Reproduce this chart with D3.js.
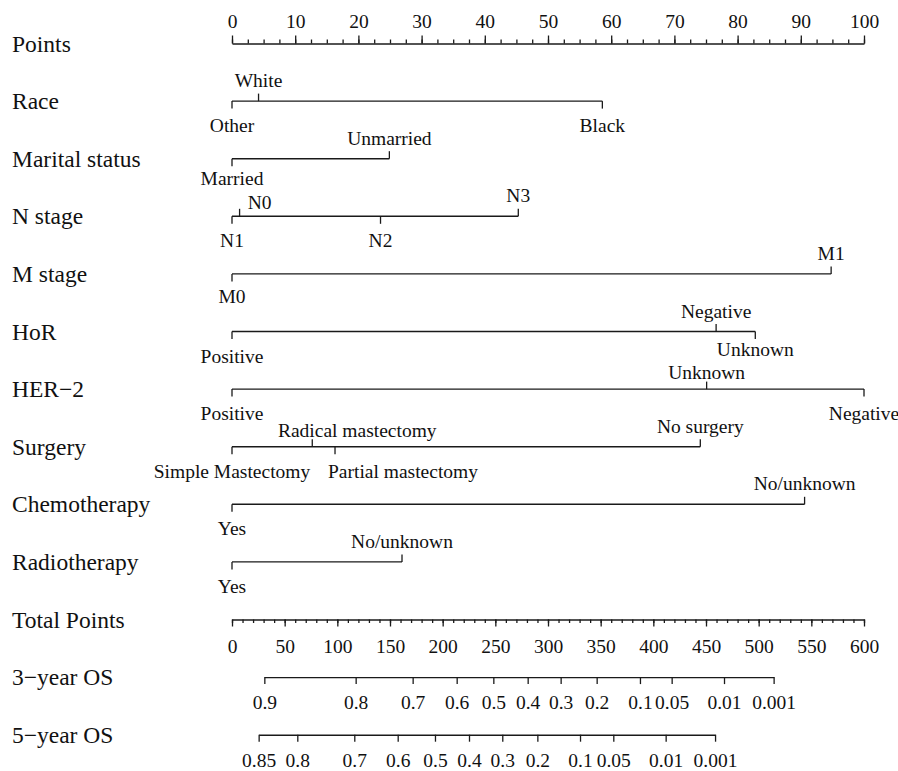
<!DOCTYPE html>
<html>
<head>
<meta charset="utf-8">
<script src="https://cdn.jsdelivr.net/npm/d3@7"></script>
<style>
  html, body { margin: 0; padding: 0; background: #fff; }
  svg { display: block; }
  text { font-family: "Liberation Serif", "Times New Roman", Times, serif; fill: #111; }
</style>
</head>
<body>
<svg id="chart" width="898" height="771"></svg>
<script>
// ---------------- DATA ----------------
const rowNames = ["Points", "Race", "Marital status", "N stage", "M stage", "HoR", "HER\u22122",
  "Surgery", "Chemotherapy", "Radiotherapy", "Total Points", "3\u2212year OS", "5\u2212year OS"];

const pointsMajor = [0, 10, 20, 30, 40, 50, 60, 70, 80, 90, 100];
const totalMajor = [0, 50, 100, 150, 200, 250, 300, 350, 400, 450, 500, 550, 600];

const raceLevels = ["Other", "White", "Black"];
const racePoints = [0, 4.2, 58.6];
const maritalLevels = ["Married", "Unmarried"];
const maritalPoints = [0, 24.9];
const nLevels = ["N1", "N0", "N2", "N3"];
const nPoints = [0, 1.2, 23.5, 45.3];
const mLevels = ["M0", "M1"];
const mPoints = [0, 94.8];
const horLevels = ["Positive", "Negative", "Unknown"];
const horPoints = [0, 76.6, 82.8];
const her2Levels = ["Positive", "Unknown", "Negative"];
const her2Points = [0, 75.1, 100];
const surgeryLevels = ["Simple Mastectomy", "Radical mastectomy", "Partial mastectomy", "No surgery"];
const surgeryPoints = [0, 12.7, 16.3, 74.1];
const chemoLevels = ["Yes", "No/unknown"];
const chemoPoints = [0, 90.6];
const radioLevels = ["Yes", "No/unknown"];
const radioPoints = [0, 26.9];

const os3Labels = ["0.9", "0.8", "0.7", "0.6", "0.5", "0.4", "0.3", "0.2", "0.1", "0.05", "0.01", "0.001"];
const os3TotalPoints = [30.7, 117.4, 171.5, 213.3, 248.1, 280.7, 312.0, 346.2, 387.3, 417.4, 467.1, 514.2];
const os5Labels = ["0.85", "0.8", "0.7", "0.6", "0.5", "0.4", "0.3", "0.2", "0.1", "0.05", "0.01", "0.001"];
const os5TotalPoints = [25.3, 62.0, 116.1, 157.3, 192.7, 225.0, 256.6, 289.9, 330.4, 362.0, 411.7, 458.6];

// ---------------- LAYOUT ----------------
const svg = d3.select("#chart");
const ink = "#1a1a1a";
const rowFont = 23.5, tickFont = 19.5;
const x = d3.scaleLinear().domain([0, 100]).range([232, 864]);
const xt = d3.scaleLinear().domain([0, 600]).range([232, 864]);
const rowY = d3.scaleLinear().domain([0, rowNames.length - 1]).range([43.5, 43.5 + 57.6 * 12]);

// hand-placed label nudges seen in the figure (to avoid overlaps)
const labelNudgeX = { "N stage|N0": 20, "Surgery|Radical mastectomy": 45, "Surgery|Partial mastectomy": 68 };
const labelNudgeY = { "Marital status|Married": -5, "N stage|N0": 7, "HoR|Unknown": -7,
  "HER\u22122|Unknown": 4, "Surgery|Radical mastectomy": 4, "M stage|M0": -2 };

// Row titles
svg.append("g").selectAll("text").data(rowNames).join("text")
  .attr("x", 12).attr("y", (d, i) => rowY(i) + 8)
  .attr("font-size", rowFont)
  .text(d => d);

function styleAxis(g) {
  g.selectAll("path.domain").attr("stroke", ink).attr("stroke-width", 1.4);
  g.selectAll(".tick line").attr("stroke", ink).attr("stroke-width", 1.3);
  g.attr("font-family", null).attr("font-size", null);
}

// Points axis (ticks up, labels above)
{
  const y0 = rowY(0);
  const minor = svg.append("g").attr("transform", `translate(0,${y0})`)
    .call(d3.axisTop(x).tickValues(d3.range(0, 100.01, 2.5)).tickSize(4).tickSizeOuter(0).tickFormat(""));
  styleAxis(minor);
  const major = svg.append("g").attr("transform", `translate(0,${y0})`)
    .call(d3.axisTop(x).tickValues(pointsMajor).tickSize(8).tickSizeOuter(0).tickFormat(d3.format("d")));
  styleAxis(major);
  major.select("path.domain").remove();
  major.selectAll(".tick text").attr("y", -16).attr("dy", 0)
    .attr("font-size", tickFont).attr("fill", "#111");
}

// Categorical rows
const catRows = [
  [raceLevels, racePoints], [maritalLevels, maritalPoints], [nLevels, nPoints],
  [mLevels, mPoints], [horLevels, horPoints], [her2Levels, her2Points],
  [surgeryLevels, surgeryPoints], [chemoLevels, chemoPoints], [radioLevels, radioPoints]
];
catRows.forEach(([levels, pts], r) => {
  const row = r + 1;
  const y0 = rowY(row);
  const items = levels.map((l, i) => ({ label: l, p: pts[i], key: rowNames[row] + "|" + l }))
    .sort((a, b) => a.p - b.p)
    .map((d, i) => ({ ...d, side: i % 2 === 0 ? 1 : -1 }));
  const g = svg.append("g");
  g.append("line")
    .attr("x1", x(d3.min(pts))).attr("x2", x(d3.max(pts)))
    .attr("y1", y0).attr("y2", y0)
    .attr("stroke", ink).attr("stroke-width", 1.4);
  g.selectAll("line.tk").data(items).join("line").attr("class", "tk")
    .attr("x1", d => x(d.p)).attr("x2", d => x(d.p))
    .attr("y1", y0).attr("y2", d => y0 + d.side * 7.5)
    .attr("stroke", ink).attr("stroke-width", 1.3);
  g.selectAll("text").data(items).join("text")
    .attr("x", d => x(d.p) + (labelNudgeX[d.key] || 0))
    .attr("y", d => (d.side > 0 ? y0 + 31 : y0 - 14) + (labelNudgeY[d.key] || 0))
    .attr("text-anchor", "middle")
    .attr("font-size", tickFont)
    .text(d => d.label);
});

// Total Points axis (ticks down, labels below)
{
  const y0 = rowY(10);
  const minor = svg.append("g").attr("transform", `translate(0,${y0})`)
    .call(d3.axisBottom(xt).tickValues(d3.range(0, 600.01, 10)).tickSize(3.5).tickSizeOuter(0).tickFormat(""));
  styleAxis(minor);
  const major = svg.append("g").attr("transform", `translate(0,${y0})`)
    .call(d3.axisBottom(xt).tickValues(totalMajor).tickSize(7).tickSizeOuter(0).tickFormat(d3.format("d")));
  styleAxis(major);
  major.select("path.domain").remove();
  major.selectAll(".tick text").attr("y", 33).attr("dy", 0)
    .attr("font-size", tickFont).attr("fill", "#111");
}

// Survival axes: probability labels placed at their total-points positions
function survivalAxis(row, labels, totals) {
  const y0 = rowY(row);
  const pos = d3.scaleOrdinal().domain(labels).range(totals.map(t => xt(t)));
  const scale = v => pos(v);
  scale.range = () => [xt(d3.min(totals)), xt(d3.max(totals))];
  scale.domain = () => labels;
  scale.copy = () => scale;
  const g = svg.append("g").attr("transform", `translate(0,${y0})`)
    .call(d3.axisBottom(scale).tickValues(labels).tickSize(7).tickSizeOuter(0));
  styleAxis(g);
  g.selectAll(".tick text").attr("y", 32).attr("dy", 0)
    .attr("font-size", tickFont).attr("fill", "#111");
}
survivalAxis(11, os3Labels, os3TotalPoints);
survivalAxis(12, os5Labels, os5TotalPoints);
</script>
</body>
</html>
